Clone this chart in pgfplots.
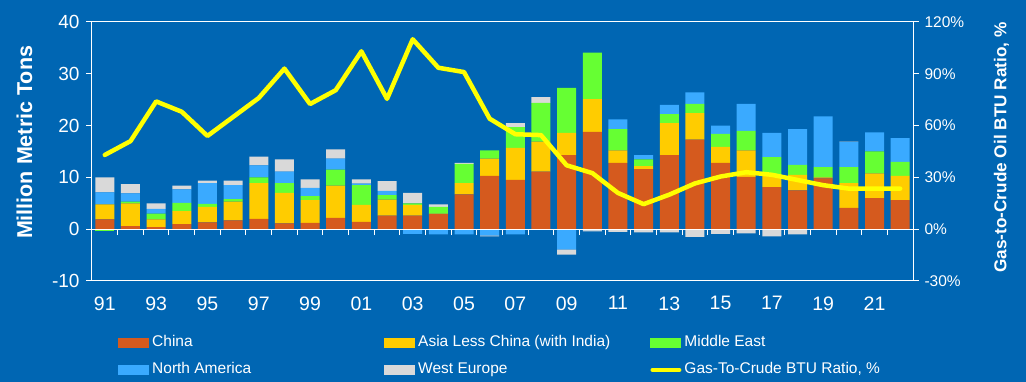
\documentclass[border=0pt]{standalone}
\usepackage{pgfplots}
\usepackage{pgfplotstable}
\pgfplotsset{compat=1.18}
\usepackage{fontspec}
\setmainfont{Liberation Sans}
\definecolor{bgblue}{RGB}{0,102,179}
\definecolor{cChina}{RGB}{213,90,30}
\definecolor{cAsia}{RGB}{255,204,0}
\definecolor{cME}{RGB}{102,255,51}
\definecolor{cNA}{RGB}{58,170,255}
\definecolor{cWE}{RGB}{217,217,217}
\definecolor{cLine}{RGB}{255,255,0}

\pgfplotstableread{
year china asia me na we
1991 1.9 2.9 0 2.3 2.9
1992 0.6 4.4 0.3 1.6 1.8
1993 0.4 1.5 1.1 0.9 1.1
1994 1.0 2.5 1.6 2.6 0.7
1995 1.3 3.0 0.6 4.0 0.5
1996 1.7 3.6 0.5 2.7 0.9
1997 2.0 6.9 1.1 2.3 1.7
1998 1.1 5.9 1.9 2.2 2.4
1999 1.2 4.4 0.8 1.6 1.6
2000 2.2 6.2 3.1 2.1 1.8
2001 1.4 3.3 3.8 0.3 0.8
2002 2.6 3.1 0.9 0.8 1.9
2003 2.6 2.1 0.3 0 2.0
2004 2.9 0.1 1.3 0 0.5
2005 6.7 2.2 3.7 0 0.2
2006 10.3 3.3 1.6 0 0
2007 9.5 6.2 4.0 0 0.8
2008 11.1 5.8 7.5 0 1.1
2009 14.3 4.3 8.7 0 0
2010 18.8 6.3 9.0 0 0
2011 12.8 2.4 4.1 1.9 0
2012 11.6 0.6 1.3 0.8 0
2013 14.3 6.2 1.7 1.8 0
2014 17.3 5.1 1.8 2.2 0
2015 12.8 3.1 2.5 1.6 0
2016 10.1 5.1 3.8 5.2 0
2017 8.1 2.2 3.6 4.7 0
2018 7.5 3.0 1.9 6.9 0
2019 9.8 0.2 2.0 9.8 0
2020 4.1 4.8 3.1 4.8 0.1
2021 6.0 4.8 4.2 3.7 0
2022 5.6 4.7 2.7 4.6 0
}\postab

\pgfplotstableread{
year me na we
1991 -0.3 0 0
2003 0 -0.9 0
2004 0 -1.0 0
2005 0 -1.0 0
2006 0 -1.2 -0.2
2007 0 -1.0 0
2008 0 -0.1 0
2009 0 -3.9 -1.0
2010 0 -0.2 -0.2
2011 0 0 -0.5
2012 0 0 -0.6
2013 0 0 -0.6
2014 0 0 -1.5
2015 0 0 -0.9
2016 0 0 -0.8
2017 0 0 -1.4
2018 0 0 -1.0
}\negtab

\pgfplotstableread{
year ratio
1991 43
1992 51
1993 74
1994 68
1995 54
1996 65
1997 76
1998 93
1999 72.5
2000 80.5
2001 103
2002 75.5
2003 110
2004 93.5
2005 91
2006 64
2007 55
2008 54.5
2009 37
2010 32.5
2011 21
2012 14.5
2013 20
2014 26.5
2015 30.5
2016 33
2017 31.5
2018 28.5
2019 25.5
2020 23.5
2021 23.5
2022 23.5
}\ratiotab

\newcommand\lgtext[1]{\makebox[235pt][l]{\hspace{3pt}#1}}

\pgfplotsset{
  common/.style={
    at={(92pt,101pt)}, anchor=south west,
    scale only axis, width=821pt, height=259pt,
    xmin=1990.5, xmax=2022.5,
  },
  swatch/.style={legend image code/.code={\fill[##1,draw=none] (0pt,-4.6pt) rectangle (31pt,4.6pt);}},
  lineswatch/.style={legend image code/.code={\draw[##1] (2.5pt,0pt) -- (29pt,0pt);}},
}

\begin{document}
\begin{tikzpicture}
\fill[bgblue] (0pt,0pt) rectangle (1026pt,382pt);

% positive stacks, frame, left axis, legend
\begin{axis}[
  common,
  ymin=-10, ymax=40,
  ybar stacked, bar width=19pt,
  axis line style={white, line width=1pt},
  tick style={white, line width=1pt},
  tick align=outside, major tick length=6pt,
  ytick={-10,0,...,40}, ytick pos=left,
  xtick={1991,1993,...,2021},
  xticklabels={91,93,95,97,99,01,03,05,07,09,11,13,15,17,19,21},
  xtick pos=bottom, xtick style={draw=none},
  /pgf/number format/assume math mode=true,
  yticklabel style={font=\fontsize{19}{19}\selectfont, text=white, xshift=-3pt},
  xticklabel style={font=\fontsize{19.5}{19.5}\selectfont, text=white, yshift=-6pt},
  ylabel={Million Metric Tons},
  ylabel style={font=\bfseries\fontsize{21.5}{21.5}\selectfont, text=white,
    at={(axis description cs:-0.0822,0.535)}, anchor=center},
  legend columns=3,
  legend cell align=left,
  legend style={draw=none, fill=none, text=white, inner sep=0pt,
    font=\fontsize{15.5}{15.5}\selectfont,
    nodes={inner sep=0pt, text height=11pt, text depth=3pt},
    /tikz/row sep=13pt,
    at={(axis description cs:0.0317,-0.2915)}, anchor=west},
]
\addplot[fill=cChina, draw=none, swatch] table[x=year,y=china]{\postab};
\addlegendentry{\lgtext{China}}
\addplot[fill=cAsia, draw=none, swatch] table[x=year,y=asia]{\postab};
\addlegendentry{\lgtext{Asia Less China (with India)}}
\addplot[fill=cME, draw=none, swatch] table[x=year,y=me]{\postab};
\addlegendentry{\lgtext{Middle East}}
\addplot[fill=cNA, draw=none, swatch] table[x=year,y=na]{\postab};
\addlegendentry{\lgtext{North America}}
\addplot[fill=cWE, draw=none, swatch] table[x=year,y=we]{\postab};
\addlegendentry{\lgtext{West Europe}}
\addlegendimage{cLine, line width=4.5pt, line cap=round, lineswatch}
\addlegendentry{\lgtext{Gas-To-Crude BTU Ratio, \%}}
\end{axis}

% negative stacks
\begin{axis}[
  common,
  ymin=-10, ymax=40,
  ybar stacked, bar width=19pt,
  hide axis,
]
\addplot[fill=cME, draw=none] table[x=year,y=me]{\negtab};
\addplot[fill=cNA, draw=none] table[x=year,y=na]{\negtab};
\addplot[fill=cWE, draw=none] table[x=year,y=we]{\negtab};
\end{axis}

% ratio line, right axis, zero line
\begin{axis}[
  common,
  ymin=-30, ymax=120,
  axis y line*=right, axis x line*=middle,
  axis line style={white, line width=1pt},
  tick style={white, line width=1pt},
  tick align=outside, major tick length=6pt,
  xtick={1991.5,1992.5,...,2021.5}, xticklabels={},
  xtick style={white, line width=1pt},
  ytick={-30,0,...,120},
  /pgf/number format/assume math mode=true,
  yticklabel={\pgfmathprintnumber{\tick}\%},
  yticklabel style={font=\fontsize{15.5}{15.5}\selectfont, text=white, xshift=2pt},
  ylabel={Gas-to-Crude Oil BTU Ratio, \%},
  ylabel style={font=\bfseries\fontsize{17.2}{17.2}\selectfont, text=white,
    at={(axis description cs:1.1078,0.5154)}, anchor=center, rotate=0},
]
\addplot[cLine, line width=4.5pt, line join=round, line cap=round] table[x=year,y=ratio]{\ratiotab};
\end{axis}
\end{tikzpicture}
\end{document}
